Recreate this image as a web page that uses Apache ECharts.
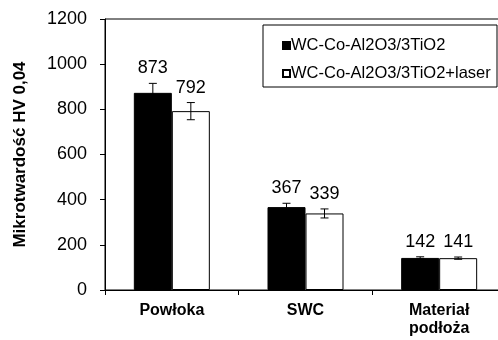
<!DOCTYPE html>
<html>
<head>
<meta charset="utf-8">
<script src="https://cdn.jsdelivr.net/npm/echarts@6/dist/echarts.min.js"></script>
<style>
  html, body { margin: 0; padding: 0; background: #fff; overflow: hidden; }
  #chart { width: 512px; height: 340px; }
</style>
</head>
<body>
<div id="chart"></div>
<script>
// Microhardness HV 0.04 of the coating, heat-affected zone and substrate
const categories = ['Powłoka', 'SWC', 'Materiał\npodłoża'];
const seriesNames = ['WC-Co-Al2O3/3TiO2', 'WC-Co-Al2O3/3TiO2+laser'];
const sprayedValues = [873, 367, 142];
const laserValues = [792, 339, 141];
const sprayedErrors = [42, 17, 5];
const laserErrors = [38, 20, 5];
const yTicks = [0, 200, 400, 600, 800, 1000, 1200];

const FONT = 'Liberation Sans, Arial, sans-serif';
const BAR_W = 38;

// error bar with cap plus the value label above it
function errorBarRenderer(shift) {
  return function (params, api) {
    const idx = api.value(0);
    const val = api.value(1);
    const err = api.value(2);
    const base = api.coord([idx, val]);
    const x = base[0] + shift;
    const hi = api.coord([idx, val + err])[1];
    const lo = api.coord([idx, val - err])[1];
    const cap = 4;
    const style = { stroke: '#000', lineWidth: 1 };
    return {
      type: 'group',
      children: [
        { type: 'line', shape: { x1: x, y1: hi, x2: x, y2: lo }, style: style },
        { type: 'line', shape: { x1: x - cap, y1: hi, x2: x + cap, y2: hi }, style: style },
        { type: 'line', shape: { x1: x - cap, y1: lo, x2: x + cap, y2: lo }, style: style },
        {
          type: 'text',
          style: {
            text: String(val), x: x, y: hi - 15,
            align: 'center', verticalAlign: 'middle',
            fill: '#000', font: '18px ' + FONT
          }
        }
      ]
    };
  };
}

function errData(values, errors) {
  return values.map((v, i) => [i, v, errors[i]]);
}

const chart = echarts.init(document.getElementById('chart'), null, { renderer: 'canvas' });

chart.setOption({
  animation: false,
  backgroundColor: '#fff',
  grid: {
    left: 105, top: 19, height: 271, width: 401,
    show: true, borderColor: '#000', borderWidth: 1
  },
  legend: {
    orient: 'vertical',
    left: 277, top: 32,
    itemWidth: 7, itemHeight: 7, itemGap: 11,
    icon: 'rect',
    textStyle: { fontFamily: FONT, fontSize: 16.5, color: '#000', padding: [0, 0, 0, -4] },
    data: seriesNames
  },
  graphic: [{
    type: 'rect',
    shape: { x: 263, y: 25, width: 234, height: 62 },
    style: { fill: 'none', stroke: '#000', lineWidth: 1 },
    z: 100
  }],
  xAxis: {
    type: 'category',
    data: categories,
    axisLine: { lineStyle: { color: '#000', width: 1 } },
    axisTick: { show: true, length: 5, lineStyle: { color: '#000' } },
    axisLabel: {
      color: '#000', fontFamily: FONT, fontSize: 16, fontWeight: 'bold',
      margin: 12, lineHeight: 18, interval: 0
    },
    splitLine: { show: false }
  },
  yAxis: {
    type: 'value',
    min: yTicks[0], max: yTicks[yTicks.length - 1], interval: 200,
    name: 'Mikrotwardość HV 0,04',
    nameLocation: 'middle',
    nameGap: 76,
    nameTextStyle: { color: '#000', fontFamily: FONT, fontSize: 17, fontWeight: 'bold' },
    axisLine: { show: true, lineStyle: { color: '#000', width: 1 } },
    axisTick: { show: true, length: 5, lineStyle: { color: '#000' } },
    axisLabel: {
      color: '#000', fontFamily: FONT, fontSize: 18, margin: 18,
      formatter: (v) => String(v)
    },
    splitLine: { show: false }
  },
  series: [
    {
      name: seriesNames[0], type: 'bar', data: sprayedValues,
      barWidth: BAR_W, barGap: '0%',
      itemStyle: { color: '#000', borderColor: '#000', borderWidth: 1 }
    },
    {
      name: seriesNames[1], type: 'bar', data: laserValues,
      barWidth: BAR_W, barGap: '0%',
      itemStyle: { color: '#fff', borderColor: '#000', borderWidth: 1 }
    },
    {
      type: 'custom', renderItem: errorBarRenderer(-BAR_W / 2),
      data: errData(sprayedValues, sprayedErrors), z: 10, silent: true
    },
    {
      type: 'custom', renderItem: errorBarRenderer(BAR_W / 2),
      data: errData(laserValues, laserErrors), z: 10, silent: true
    }
  ]
});
</script>
</body>
</html>
